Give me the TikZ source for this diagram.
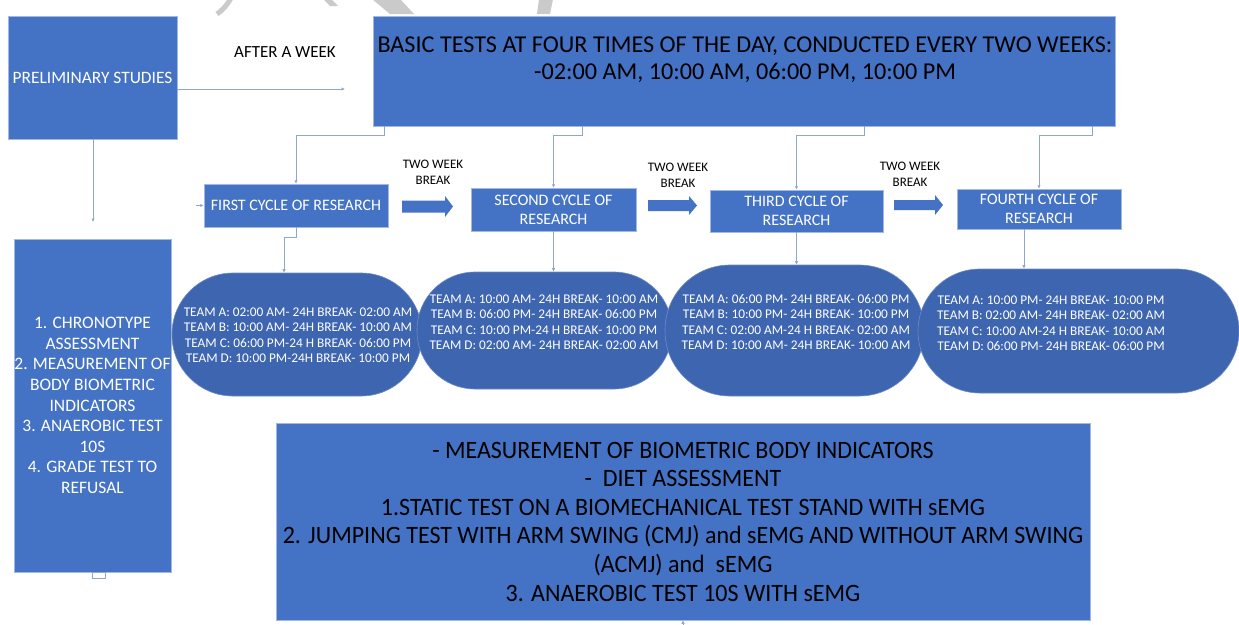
\documentclass[tikz,border=0pt]{standalone}
\usepackage{fontspec}
\setmainfont{Carlito}
\newfontfamily\condfont[FakeStretch=0.96]{Carlito}
\usetikzlibrary{arrows.meta,calc}
\definecolor{boxblue}{HTML}{4472C4}
\definecolor{ovalblue}{HTML}{3E65AF}
\definecolor{linec}{HTML}{8FA6CE}
\definecolor{edgec}{HTML}{A3B8E0}
\definecolor{wm}{HTML}{CACACA}
\begin{document}
\begin{tikzpicture}[x=1pt,y=-1pt,
  box/.style={fill=boxblue, draw=edgec, line width=0.5pt, inner sep=0pt, align=center, text=white},
  oval/.style={fill=ovalblue, draw=ovalblue!75!white, line width=0.6pt, inner sep=0pt, rounded corners=#1},
  ovtxt/.style={text=white, align=center, font=\fontsize{13.3}{15.5}\selectfont, inner sep=0pt},
  conn/.style={draw=linec, line width=0.8pt},
  arr/.style={conn, -{Latex[length=3.5pt,width=3.5pt]}},
  blk/.style={fill=boxblue, draw=none},
  brk/.style={text=black, align=center, font=\fontsize{13}{16}\selectfont, inner sep=0pt},
  cyc/.style={box, font=\fontsize{16}{19}\selectfont}
]
\useasboundingbox (0,0) rectangle (1239,624);
\fill[white] (0,0) rectangle (1239,624);

% watermark fragments
\draw[wm, line width=5pt] (231,-2) to[bend left=12] (217,14);
\fill[wm] (323,-1) -- (331,-1) -- (338,6) -- (330,6) -- cycle;
\fill[wm] (372,-1) -- (400,-1) -- (414,14) -- (390,14) -- cycle;
\fill[wm] (539,-1) -- (553,-1) -- (550,14) -- (537,14) -- cycle;

% main boxes
\node[box, minimum width=169pt, minimum height=123pt, font=\fontsize{17.4}{20}\selectfont] (prelim) at (92.5,77.5) {PRELIMINARY STUDIES};
\node[box, minimum width=742pt, minimum height=110pt] (basic) at (744,71) {};
\node[text=black, align=center, inner sep=0pt, font=\fontsize{24.2}{27}\selectfont] (basictxt) at (745,59.5)
  {BASIC TESTS AT FOUR TIMES OF THE DAY, CONDUCTED EVERY TWO WEEKS:\\-02:00 AM, 10:00 AM, 06:00 PM, 10:00 PM};
\node[text=black, inner sep=0pt, font=\fontsize{17}{20}\selectfont] (after) at (285,52) {AFTER A WEEK};

\node[box, minimum width=157pt, minimum height=333pt, font=\fontsize{17.5}{20.6}\selectfont] (left) at (92.5,405.5)
  {1. CHRONOTYPE\\ASSESSMENT\\2. MEASUREMENT OF\\BODY BIOMETRIC\\INDICATORS\\3. ANAEROBIC TEST\\10S\\4. GRADE TEST TO\\REFUSAL};
\draw[conn, line width=0.6pt] (92,572) rectangle (105,578);

% cycle boxes
\node[cyc, minimum width=184pt, minimum height=43pt] (c1) at (296,205.5) {FIRST CYCLE OF RESEARCH};
\node[cyc, minimum width=165pt, minimum height=43pt] (c2) at (553.5,209.5) {SECOND CYCLE OF\\RESEARCH};
\node[cyc, minimum width=173pt, minimum height=42pt] (c3) at (796.5,211) {THIRD CYCLE OF\\RESEARCH};
\node[cyc, minimum width=164pt, minimum height=40pt] (c4) at (1039,209) {FOURTH CYCLE OF\\RESEARCH};

% block arrows
\fill[blk] (402,200.5) -- (445,200.5) -- (445,196) -- (453,206.5) -- (445,217) -- (445,212.5) -- (402,212.5) -- cycle;
\fill[blk] (648,200) -- (689,200) -- (689,196) -- (697,205.5) -- (689,215) -- (689,211) -- (648,211) -- cycle;
\fill[blk] (894,200) -- (935,200) -- (935,195) -- (943,205) -- (935,215) -- (935,210) -- (894,210) -- cycle;
\node[brk] (b1) at (433,172) {TWO WEEK\\BREAK};
\node[brk] (b2) at (678,175) {TWO WEEK\\BREAK};
\node[brk] (b3) at (910,174) {TWO WEEK\\BREAK};

% ovals
\node[oval=61pt, minimum width=250pt, minimum height=123pt] (o1) at (297,334.5) {};
\node[oval=58pt, minimum width=255pt, minimum height=117pt] (o2) at (544.5,330.5) {};
\node[oval=65pt, minimum width=259pt, minimum height=131pt] (o3) at (794.5,330.5) {};
\node[oval=62pt, minimum width=321pt, minimum height=124pt] (o4) at (1078.5,331) {};
\node[ovtxt] (t1) at (298,335) {TEAM A: 02:00 AM- 24H BREAK- 02:00 AM\\TEAM B: 10:00 AM- 24H BREAK- 10:00 AM\\TEAM C: 06:00 PM-24 H BREAK- 06:00 PM\\TEAM D: 10:00 PM-24H BREAK- 10:00 PM};
\node[ovtxt] (t2) at (544,322) {TEAM A: 10:00 AM- 24H BREAK- 10:00 AM\\TEAM B: 06:00 PM- 24H BREAK- 06:00 PM\\TEAM C: 10:00 PM-24 H BREAK- 10:00 PM\\TEAM D: 02:00 AM- 24H BREAK- 02:00 AM};
\node[ovtxt] (t3) at (796,322) {TEAM A: 06:00 PM- 24H BREAK- 06:00 PM\\TEAM B: 10:00 PM- 24H BREAK- 10:00 PM\\TEAM C: 02:00 AM-24 H BREAK- 02:00 AM\\TEAM D: 10:00 AM- 24H BREAK- 10:00 AM};
\node[ovtxt] (t4) at (1051,323) {TEAM A: 10:00 PM- 24H BREAK- 10:00 PM\\TEAM B: 02:00 AM- 24H BREAK- 02:00 AM\\TEAM C: 10:00 AM-24 H BREAK- 10:00 AM\\TEAM D: 06:00 PM- 24H BREAK- 06:00 PM};

% bottom box
\node[box, text=black, minimum width=814pt, minimum height=197pt, font=\condfont\fontsize{25}{28.6}\selectfont] (bottom) at (683,521.5)
  {- MEASUREMENT OF BIOMETRIC BODY INDICATORS\\-\ \ DIET ASSESSMENT\\1.STATIC TEST ON A BIOMECHANICAL TEST STAND WITH sEMG\\2. JUMPING TEST WITH ARM SWING (CMJ) and sEMG AND WITHOUT ARM SWING\\(ACMJ) and\ \ sEMG\\3. ANAEROBIC TEST 10S WITH sEMG};

% connectors
\coordinate (pr) at (345,89);
\coordinate (pd) at (93,222);
\coordinate (bu) at (683,626);
\coordinate (cl) at (196,205.5);
\draw[arr] (prelim.east |- pr) -- (pr);
\draw[arr] (prelim.south -| pd) -- (pd);
\draw[arr] ($(basic.south west)+(12,0)$) -- ++(0,9) -| (c1.north);
\draw[arr] ($(basic.south west)+(210,0)$) -- ++(0,9) -| (c2.north);
\draw[arr] ($(basic.south west)+(492,0)$) -- ++(0,9) -| (c3.north);
\draw[arr] ($(basic.south west)+(720,0)$) -- ++(0,9) -| (c4.north);
\draw[arr] (c1.south) -- ++(0,10) -| ($(o1.north)+(-13,0)$);
\draw[arr] (c2.south) -- (c2.south |- o2.north);
\draw[arr] (c3.south) -- (c3.south |- o3.north);
\draw[arr] ($(c4.south)+(-15,0)$) -- ($(c4.south |- o4.north)+(-15,0)$);
\draw[arr] (cl) -- (c1.west);
\draw[arr] (bu) -- (bottom.south);
\end{tikzpicture}
\end{document}
